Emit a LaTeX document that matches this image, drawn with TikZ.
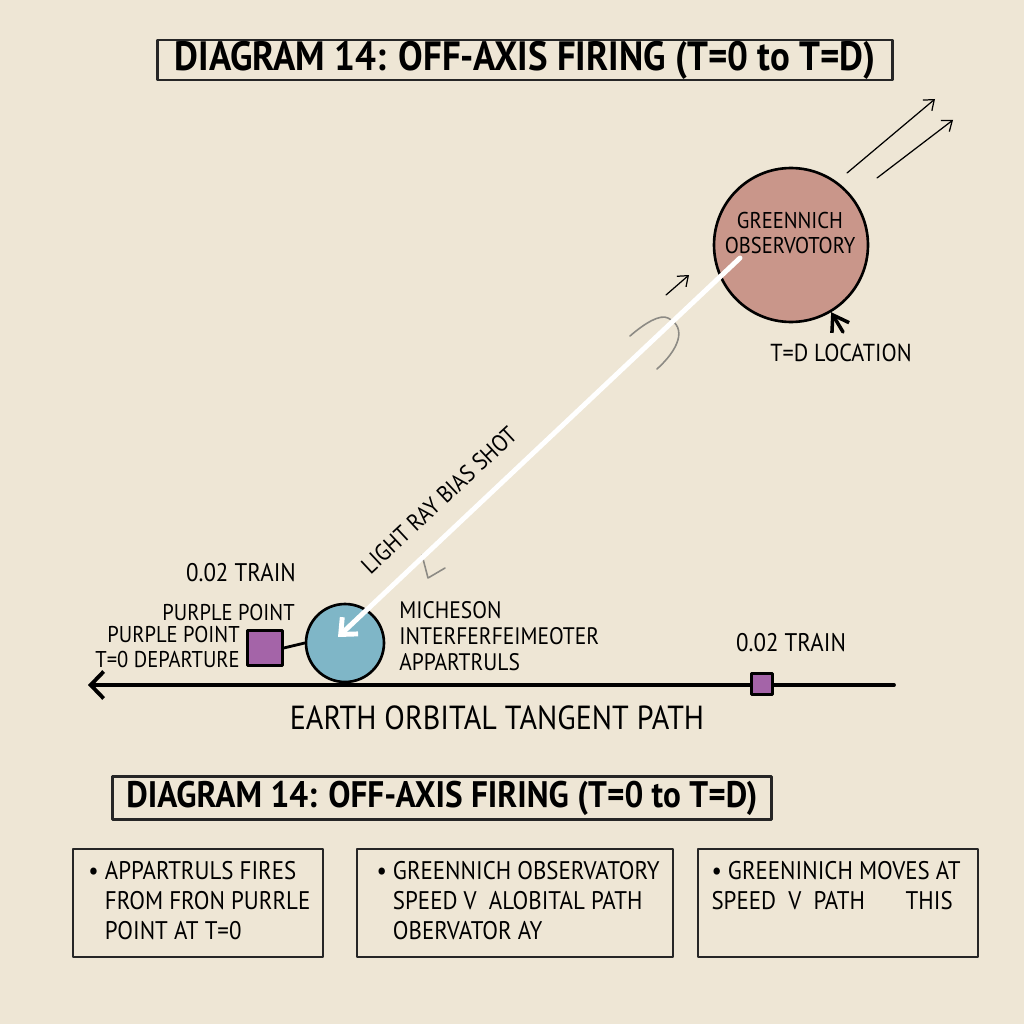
\documentclass[tikz,border=0pt]{standalone}
\usepackage{fontspec}
\setmainfont[FakeStretch=0.9]{PT Sans}
\newfontfamily\headfont[FakeStretch=0.9]{PT Sans}
\usepackage{xcolor}
\usepackage{tikz}
\usetikzlibrary{arrows.meta}
\usetikzlibrary{positioning,calc}

\definecolor{paper}{RGB}{238,230,213}
\definecolor{obsrose}{RGB}{201,150,138}
\definecolor{michblue}{RGB}{127,182,199}
\definecolor{purplept}{RGB}{164,100,168}
\definecolor{pencil}{RGB}{140,138,132}

\begin{document}
\begin{tikzpicture}[x=0.02cm,y=-0.02cm,>=Latex,line join=round,line cap=round]
% -------------------------------------------------
% Styles
% -------------------------------------------------
\tikzset{
  headbox/.style={draw=black!85, line width=1.3pt, inner sep=0pt, minimum height=0.8cm,
    font=\headfont\bfseries\fontsize{23.3}{23.3}\selectfont},
  notebox/.style={draw=black!85, line width=1pt, minimum height=2.16cm, inner sep=0pt},
  notetext/.style={anchor=north west, align=left, inner sep=0pt, font=\fontsize{14.5}{17}\selectfont},
  lbl/.style={inner sep=0pt, font=\fontsize{13}{14.5}\selectfont},
  stationdot/.style={circle, draw=black, line width=1.5pt, inner sep=0pt},
  purplesq/.style={draw=black, fill=purplept, line width=1.4pt, inner sep=0pt},
  ray/.style={draw=white, line width=2.8pt, -{Straight Barb[length=2.6mm,width=4.6mm]}},
  trackline/.style={line width=2.2pt, -{Straight Barb[length=2.6mm,width=5.4mm]}},
  thinarrow/.style={line width=0.7pt, -{Straight Barb[length=1.8mm,width=2.8mm]}},
  pointer/.style={line width=2pt, -{Straight Barb[length=3mm,width=4mm]}},
  scribble/.style={draw=pencil, line width=0.9pt},
}
\useasboundingbox (0,0) rectangle (1024,1024);
\fill[paper] (0,0) rectangle (1024,1024);
% -------------------------------------------------
% HEADER
% -------------------------------------------------
\node[headbox, minimum width=14.7cm] (head) at (525,60) {DIAGRAM 14: OFF-AXIS FIRING (T=0 to T=D)};

% -------------------------------------------------
% OBSERVATORY
% -------------------------------------------------
\node[stationdot, fill=obsrose, minimum size=3.08cm] (obs) at (791,245) {};
\node[lbl, align=center] (obstext) at (790,233) {GREENNICH\\OBSERVOTORY};
\node[lbl, font=\fontsize{14}{14}\selectfont] (tdloc) at (841,353) {T=D LOCATION};
\coordinate (tdtail) at (843,332);
\draw[pointer] (tdtail) -- (obs);

\coordinate (beamAin) at (847,173);
\coordinate (beamAout) at (935,99);
\coordinate (beamBin) at (877,178);
\coordinate (beamBout) at (953,120);
\draw[thinarrow] (beamAin) -- (beamAout);
\draw[thinarrow] (beamBin) -- (beamBout);

% -------------------------------------------------
% ORBITAL TRACK
% -------------------------------------------------
\coordinate (trackend) at (894,685);
\coordinate (trackstart) at (88,685);
\draw[trackline] (trackend) -- (trackstart);

\node[stationdot, fill=michblue, minimum size=1.56cm] (mich) at (345,643) {};
\node[purplesq, minimum size=0.7cm] (purp) at (265,648) {};
\draw[line width=1.6pt] (purp.east) -- (mich.west);
\node[purplesq, minimum size=0.42cm] (train) at (762,684) {};

\node[lbl, font=\fontsize{14.5}{14.5}\selectfont] (trainlbl) at (791,643) {0.02 TRAIN};
\node[lbl, font=\fontsize{14.5}{14.5}\selectfont] (trainlblb) at (241,573) {0.02 TRAIN};
\node[lbl, anchor=east] (ppa) at (295,612) {PURPLE POINT};
\node[lbl, anchor=east, align=right] (ppb) at (240,647) {PURPLE POINT\\T=0 DEPARTURE};
\node[lbl, anchor=west, align=left, font=\fontsize{13.6}{14.8}\selectfont] (michlbl) at (399,636)
  {MICHESON\\INTERFERFEIMEOTER\\APPARTRULS};
\node[lbl, font=\fontsize{19}{19}\selectfont] (tracklbl) at (497,718) {EARTH ORBITAL TANGENT PATH};

% -------------------------------------------------
% LIGHT RAY
% -------------------------------------------------
\coordinate (raystart) at (740,258);
\coordinate (rayend) at (338,637);
\coordinate (nudgein) at (666,295);
\coordinate (nudgeout) at (689,275);
\draw[thinarrow] (nudgein) -- (nudgeout);
\draw[scribble] (630,336) .. controls (645,323) and (660,314) .. (668,318)
  .. controls (688,328) and (678,350) .. (657,369);
\draw[scribble] (422,555) -- (428,578) -- (445,568);
\draw[ray] (raystart) -- (rayend);
\node[lbl, rotate=43, font=\fontsize{13.5}{13.5}\selectfont] (raylbl) at (439,500) {LIGHT RAY BIAS SHOT};

% -------------------------------------------------
% NOTES
% -------------------------------------------------
\node[headbox, minimum width=13.18cm, minimum height=0.86cm, font=\headfont\bfseries\fontsize{21}{21}\selectfont]
  (headb) at (442,798) {DIAGRAM 14: OFF-AXIS FIRING (T=0 to T=D)};

\node[notebox, minimum width=5cm] (noteA) at (198,903) {};
\node[notebox, minimum width=6.32cm] (noteB) at (515,903) {};
\node[notebox, minimum width=5.6cm] (noteC) at (838,903) {};

\node[notetext] (noteAtext) at ($(noteA.north west)+(16,13)$)
  {\textbullet\ APPARTRULS FIRES\\\phantom{\textbullet}\ FROM FRON PURRLE\\\phantom{\textbullet}\ POINT AT T=0};
\node[notetext] (noteBtext) at ($(noteB.north west)+(20,13)$)
  {\textbullet\ GREENNICH OBSERVATORY\\\phantom{\textbullet}\ SPEED V\ \ ALOBITAL PATH\\\phantom{\textbullet}\ OBERVATOR AY};
\node[notetext] (noteCtext) at ($(noteC.north west)+(14,13)$)
  {\textbullet\ GREENINICH MOVES AT\\SPEED\ \ V\ \ PATH\hspace{1.6em}THIS};

\end{tikzpicture}
\end{document}
